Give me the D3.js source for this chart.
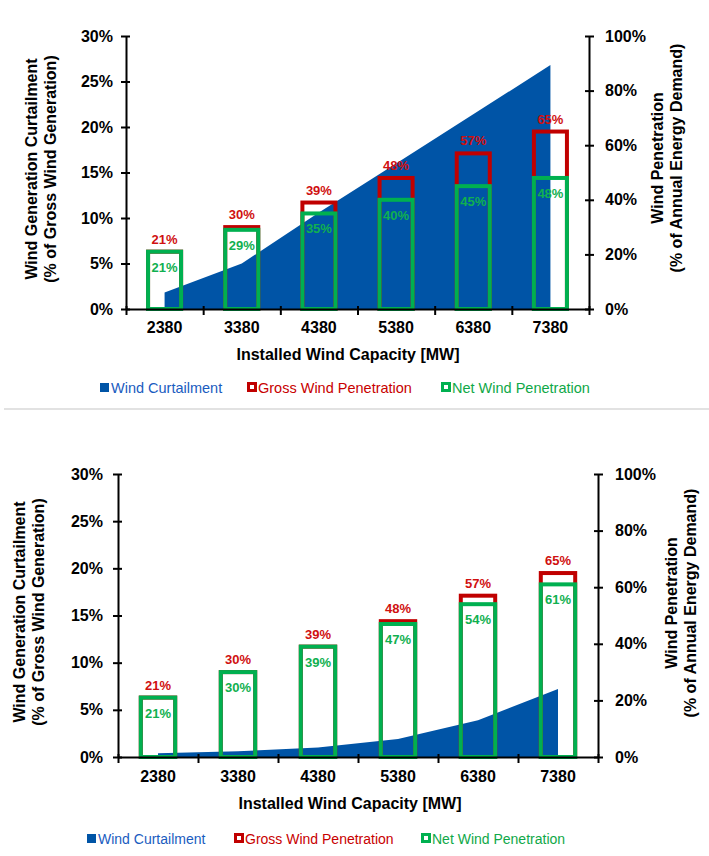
<!DOCTYPE html>
<html>
<head>
<meta charset="utf-8">
<script src="https://cdn.jsdelivr.net/npm/d3@7"></script>
<style>
  body { margin: 0; background: #fff; }
  svg { display: block; font-family: Arial, "Liberation Sans", sans-serif; }
  .axis path, .axis line { stroke: #000; stroke-width: 2; }
  .axis text { font-size: 16px; font-weight: bold; fill: #000; }
</style>
</head>
<body>
<svg id="chart" width="709" height="856"></svg>
<script>
// installed capacity categories (MW)
var capacity = ["2380", "3380", "4380", "5380", "6380", "7380"];

// upper chart
var grossPenetrationA = [21, 30, 39, 48, 57, 65];
var netPenetrationA = [21, 29, 35, 40, 45, 48];
var curtailmentA = [1.8, 5.0, 10.6, 16.0, 21.4, 26.8];

// lower chart
var grossPenetrationB = [21, 30, 39, 48, 57, 65];
var netPenetrationB = [21, 30, 39, 47, 54, 61];
var curtailmentB = [0.4, 0.6, 1.0, 1.9, 3.9, 7.2];

var leftTicks = [0, 5, 10, 15, 20, 25, 30];
var rightTicks = [0, 20, 40, 60, 80, 100];

var BLUE = "#0054a6", RED = "#c00000", GREEN = "#00b050";

var svg = d3.select("#chart");

function drawChart(cfg) {
  var x = d3.scaleBand().domain(capacity).range([cfg.left, cfg.right]);
  var xEdge = d3.scaleLinear().domain([0, capacity.length]).range([cfg.left, cfg.right]);
  var yL = d3.scaleLinear().domain([0, 30]).range([cfg.bottom, cfg.top]);
  var yR = d3.scaleLinear().domain([0, 100]).range([cfg.bottom, cfg.top]);
  var cx = d => x(d) + x.bandwidth() / 2;

  var g = svg.append("g");

  var rows = capacity.map((c, i) => ({ c: c, cut: cfg.curt[i], gross: cfg.gross[i], net: cfg.net[i] }));

  // curtailment area
  g.append("path")
    .datum(rows)
    .attr("fill", BLUE)
    .attr("d", d3.area().x(d => cx(d.c)).y0(yL(0)).y1(d => yL(d.cut)));

  var bw = x.bandwidth() * 0.48 - 4;

  g.selectAll(".gross")
    .data(rows)
    .enter().append("rect")
    .attr("class", "gross")
    .attr("x", d => cx(d.c) - bw / 2)
    .attr("width", bw)
    .attr("y", d => yR(d.gross))
    .attr("height", d => yR(0) - yR(d.gross))
    .attr("fill", "none")
    .attr("stroke", RED)
    .attr("stroke-width", 4);

  g.selectAll(".net")
    .data(rows)
    .enter().append("rect")
    .attr("class", "net")
    .attr("x", d => cx(d.c) - bw / 2)
    .attr("width", bw)
    .attr("y", d => yR(d.net))
    .attr("height", d => yR(0) - yR(d.net))
    .attr("fill", "none")
    .attr("stroke", GREEN)
    .attr("stroke-width", 4);

  g.selectAll(".grossLbl")
    .data(rows)
    .enter().append("text")
    .attr("x", d => cx(d.c))
    .attr("y", d => yR(d.gross) - 8)
    .attr("text-anchor", "middle")
    .attr("font-size", 13).attr("font-weight", "bold")
    .attr("fill", "#d01010")
    .text(d => d.gross + "%");

  g.selectAll(".netLbl")
    .data(rows)
    .enter().append("text")
    .attr("x", d => cx(d.c))
    .attr("y", d => yR(d.net) + 20)
    .attr("text-anchor", "middle")
    .attr("font-size", 13).attr("font-weight", "bold")
    .attr("fill", "#10b050")
    .text(d => d.net + "%");

  // axes
  var ax = g.append("g").attr("class", "axis")
    .attr("transform", `translate(${cfg.left},0)`)
    .call(d3.axisLeft(yL).tickValues(leftTicks).tickSize(5).tickSizeOuter(0).tickPadding(cfg.padL).tickFormat(d => d + "%"));
  ax.selectAll(".tick line").attr("x2", -5).attr("x1", 4);

  var ar = g.append("g").attr("class", "axis")
    .attr("transform", `translate(${cfg.right},0)`)
    .call(d3.axisRight(yR).tickValues(rightTicks).tickSize(5).tickSizeOuter(0).tickPadding(cfg.padR).tickFormat(d => d + "%"));
  ar.selectAll(".tick line").attr("x2", 5).attr("x1", -4);

  var axb = g.append("g").attr("class", "axis")
    .attr("transform", `translate(0,${cfg.bottom})`)
    .call(d3.axisBottom(xEdge).tickValues(d3.range(capacity.length + 1)).tickSize(6).tickSizeOuter(0).tickFormat(""));
  axb.selectAll(".tick line").attr("y1", -3);

  g.append("g").attr("class", "axis")
    .attr("transform", `translate(0,${cfg.bottom})`)
    .call(d3.axisBottom(x).tickSize(0).tickPadding(cfg.padX))
    .select(".domain").remove();

  // titles
  g.append("text")
    .attr("x", cfg.xTitleX).attr("y", cfg.xTitleY)
    .attr("text-anchor", "middle")
    .attr("font-size", 16).attr("font-weight", "bold")
    .text("Installed Wind Capacity [MW]");

  var lt = g.append("text")
    .attr("transform", `translate(${cfg.lTitleX},${cfg.lTitleY}) rotate(-90)`)
    .attr("text-anchor", "middle")
    .attr("font-size", 16).attr("font-weight", "bold");
  lt.append("tspan").attr("x", 0).attr("y", 0).text("Wind Generation Curtailment");
  lt.append("tspan").attr("x", 0).attr("y", 19).text("(% of Gross Wind Generation)");

  var rt = g.append("text")
    .attr("transform", `translate(${cfg.rTitleX},${cfg.rTitleY}) rotate(-90)`)
    .attr("text-anchor", "middle")
    .attr("font-size", 16).attr("font-weight", "bold");
  rt.append("tspan").attr("x", 0).attr("y", 0).text("Wind Penetration");
  rt.append("tspan").attr("x", 0).attr("y", 19).text("(% of Annual Energy Demand)");

  // legend
  var lg = g.append("g").attr("font-size", cfg.legFont);
  var items = [
    { name: "Wind Curtailment", color: "#1a5cc0", mark: BLUE, type: "fill" },
    { name: "Gross Wind Penetration", color: "#c80000", mark: RED, type: "box" },
    { name: "Net Wind Penetration", color: "#10a848", mark: GREEN, type: "box" }
  ];
  items.forEach((it, i) => {
    var mx = cfg.legX[i];
    if (it.type === "fill") {
      lg.append("rect").attr("x", mx).attr("y", cfg.legY - 5).attr("width", 9).attr("height", 9).attr("fill", it.mark);
    } else {
      lg.append("rect").attr("x", mx + 1.5).attr("y", cfg.legY - 4.5).attr("width", 7).attr("height", 7)
        .attr("fill", "#fff").attr("stroke", it.mark).attr("stroke-width", 3);
    }
    lg.append("text").attr("x", mx + 11).attr("y", cfg.legY + 5).attr("fill", it.color).text(it.name);
  });
}

drawChart({
  left: 126, right: 589, top: 36, bottom: 309,
  gross: grossPenetrationA, net: netPenetrationA, curt: curtailmentA,
  padL: 8, padR: 11, padX: 13,
  xTitleX: 348, xTitleY: 360,
  lTitleX: 37, lTitleY: 169, rTitleX: 663, rTitleY: 158,
  legX: [100, 247, 441], legY: 388, legFont: 14.5
});

svg.append("line")
  .attr("x1", 4).attr("x2", 709).attr("y1", 409).attr("y2", 409)
  .attr("stroke", "#d9d9d9").attr("stroke-width", 1.5);

drawChart({
  left: 118, right: 598, top: 474, bottom: 757,
  gross: grossPenetrationB, net: netPenetrationB, curt: curtailmentB,
  padL: 10, padR: 12, padX: 14,
  xTitleX: 350, xTitleY: 809,
  lTitleX: 25, lTitleY: 612, rTitleX: 677, rTitleY: 603,
  legX: [87, 234, 421], legY: 839, legFont: 14
});
</script>
</body>
</html>
